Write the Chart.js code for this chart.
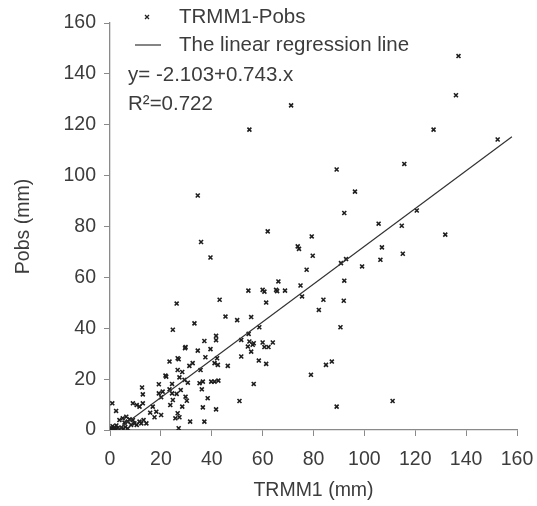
<!DOCTYPE html>
<html>
<head>
<meta charset="utf-8">
<script src="https://cdn.jsdelivr.net/npm/chart.js@4"></script>
<style>
  html, body { margin: 0; padding: 0; background: #fff; }
  #wrap { width: 537px; height: 506px; position: relative; }
</style>
</head>
<body>
<div id="wrap"><canvas id="graph"></canvas></div>
<script>
// ** DATA: ** //

var trmm = [137.0, 136.0, 127.2, 152.4, 71.2, 54.8, 34.5, 35.8, 39.5, 115.7,
	89.1, 96.3, 92.1, 120.6, 105.6, 114.7, 131.8, 62.0, 73.8, 74.3,
	79.3, 79.7, 77.3, 66.2, 74.9, 106.9, 115.1, 106.3, 99.1, 90.8,
	92.8, 92.1, 83.9, 91.9, 82.1, 90.6, 84.9, 87.2, 79.0, 89.1,
	111.1, 54.4, 60.7, 65.7, 68.8, 61.4, 75.5, 55.5, 58.7, 54.5,
	26.2, 43.1, 45.4, 50.0, 33.2, 24.7, 41.7, 41.7, 37.1, 29.5,
	34.5, 39.5, 51.6, 54.8, 54.2, 56.1, 55.5, 26.6, 37.5, 42.1,
	51.6, 56.5, 60.0, 60.7, 62.3, 64.0, 58.5, 61.4, 56.5, 50.9,
	41.1, 42.4, 46.3, 35.6, 35.2, 36.5, 36.1, 39.8, 41.1, 42.6,
	38.4, 36.5, 41.7, 37.1, 0.9, 29.7, 23.4, 27.0, 31.2, 32.5,
	26.6, 28.4, 21.8, 27.3, 29.3, 30.6, 12.6, 12.9, 19.2, 19.2,
	20.7, 20.1, 23.4, 24.4, 26.2, 27.8, 29.7, 30.2, 28.4, 9.0,
	10.5, 11.6, 12.9, 16.8, 18.2, 15.8, 20.1, 17.5, 24.7, 23.7,
	26.6, 25.7, 27.3, 31.5, 27.0, 2.4, 3.7, 5.0, 6.4, 7.7,
	7.0, 5.7, 9.0, 9.6, 8.3, 10.5, 11.6, 12.3, 13.2, 14.3,
	0.2, 0.8, 1.5, 2.2, 3.0, 3.8, 4.5, 5.2, 6.0, 1.0,
	2.5, 0.5, 7.0, 1.8, 60.0, 65.3, 24.4, 22.1];

var pobs = [147.0, 131.6, 118.1, 114.2, 127.6, 118.1, 92.2, 73.9, 67.8, 104.6,
	102.4, 93.7, 85.3, 86.3, 81.1, 80.3, 76.8, 78.1, 72.2, 71.2,
	76.1, 68.5, 63.0, 58.4, 56.8, 71.8, 69.3, 66.9, 64.3, 65.6,
	67.2, 58.7, 51.2, 50.8, 47.2, 40.4, 25.6, 26.9, 21.7, 9.2,
	11.4, 54.8, 54.4, 54.6, 54.8, 50.1, 52.5, 44.4, 40.4, 37.8,
	49.7, 51.2, 44.6, 43.2, 41.9, 39.4, 37.0, 35.3, 35.0, 32.2,
	31.2, 31.8, 35.4, 34.8, 32.8, 33.5, 30.8, 28.2, 28.6, 28.2,
	28.9, 34.1, 34.4, 32.6, 32.6, 34.4, 27.3, 26.0, 18.1, 11.4,
	26.3, 25.6, 25.2, 23.6, 18.4, 19.0, 16.0, 19.0, 19.0, 19.4,
	12.5, 8.9, 8.1, 3.3, 10.5, 32.6, 26.9, 27.8, 25.2, 26.3,
	23.6, 22.8, 21.4, 20.7, 19.7, 18.6, 16.7, 14.0, 18.0, 14.4,
	15.1, 12.9, 16.0, 14.4, 14.2, 15.7, 13.1, 11.5, 9.2, 10.5,
	9.8, 9.2, 10.5, 9.2, 7.2, 6.8, 5.9, 5.0, 11.8, 9.8,
	6.6, 4.6, 5.0, 3.3, 0.7, 7.5, 3.9, 4.6, 5.2, 4.2,
	3.3, 2.9, 3.9, 2.6, 2.0, 2.0, 3.3, 2.6, 3.9, 2.6,
	0.3, 0.1, 0.5, 0.2, 0.8, 0.3, 1.0, 0.4, 1.2, 1.5,
	1.8, 0.8, 0.6, 1.0, 55.1, 55.1, 18.1, 21.0];

// regression line end points
var lineX = [2.8, 158];
var lineY = [0, 115.3];

var xTicks = [0, 20, 40, 60, 80, 100, 120, 140, 160];
var yTicks = [0, 20, 40, 60, 80, 100, 120, 140, 160];

var seriesLabel = 'TRMM1-Pobs';
var lineLabel = 'The linear regression line';
var eqText = 'y= -2.103+0.743.x';
var r2Text = 'R\u00B2=0.722';

// ** FUNCTIONS: ** //

function toPoints(xs, ys){
	var pts = [];
	for (var i = 0; i < xs.length; i++) {
		pts.push({x: xs[i], y: ys[i]});
	}
	return pts;
}

var textColor = '#3c3c3c';
var axisColor = '#8a8a8a';

var legendPlugin = {
	id: 'insideLegend',
	afterDraw: function(chart){
		var ctx = chart.ctx;
		ctx.save();
		ctx.fillStyle = textColor;
		ctx.font = '20.5px "Liberation Sans", Arial, sans-serif';
		ctx.textBaseline = 'middle';
		ctx.textAlign = 'left';

		// marker sample
		ctx.strokeStyle = '#222';
		ctx.lineWidth = 1.3;
		ctx.beginPath();
		ctx.moveTo(145, 15); ctx.lineTo(149, 19);
		ctx.moveTo(149, 15); ctx.lineTo(145, 19);
		ctx.stroke();
		ctx.fillText(seriesLabel, 179, 17);

		// line sample
		ctx.strokeStyle = '#333';
		ctx.lineWidth = 1.2;
		ctx.beginPath();
		ctx.moveTo(135, 45); ctx.lineTo(161, 45);
		ctx.stroke();
		ctx.fillText(lineLabel, 179, 45);

		ctx.fillText(eqText, 128, 75);
		ctx.fillText(r2Text, 128, 104);
		ctx.restore();
	}
};

function generateGraph(graphID){
	var graph = document.getElementById(graphID);
	var tickFont = {family: '"Liberation Sans", Arial, sans-serif', size: 19.5};

	new Chart(graph, {
		data: {
			datasets: [{
				type: 'scatter',
				label: seriesLabel,
				data: toPoints(trmm, pobs),
				pointStyle: 'crossRot',
				pointRadius: 2.8,
				pointBorderWidth: 1.6,
				borderColor: '#1e1e1e',
				backgroundColor: '#1e1e1e',
				order: 2
			}, {
				type: 'line',
				label: lineLabel,
				data: toPoints(lineX, lineY),
				borderColor: '#333',
				borderWidth: 1.2,
				pointRadius: 0,
				fill: false,
				order: 1
			}]
		},
		options: {
			responsive: true,
			maintainAspectRatio: false,
			animation: false,
			events: [],
			layout: {padding: {top: 23, right: 20, left: 0, bottom: 0}},
			plugins: {legend: {display: false}, tooltip: {enabled: false}},
			scales: {
				x: {
					type: 'linear',
					min: 0, max: 160,
					afterBuildTicks: function(scale){ scale.ticks = xTicks.map(function(v){ return {value: v}; }); },
					afterFit: function(scale){ scale.height = 76; scale.paddingRight = 0; scale.paddingLeft = 0; },
					grid: {display: true, drawOnChartArea: false, drawTicks: true, tickLength: 6, color: axisColor},
					border: {display: true, color: axisColor, width: 1.3},
					ticks: {color: textColor, font: tickFont, padding: 12, maxRotation: 0},
					title: {display: true, text: 'TRMM1 (mm)', color: textColor, font: tickFont, padding: {top: 0, bottom: 4}}
				},
				y: {
					type: 'linear',
					min: 0, max: 160,
					afterBuildTicks: function(scale){ scale.ticks = yTicks.map(function(v){ return {value: v}; }); },
					afterFit: function(scale){ scale.width = 110; },
					grid: {display: true, drawOnChartArea: false, drawTicks: true, tickLength: 6, color: axisColor},
					border: {display: true, color: axisColor, width: 1.3},
					ticks: {color: textColor, font: tickFont, padding: 8},
					title: {display: true, text: 'Pobs (mm)', color: textColor, font: tickFont, padding: {top: 12, bottom: 0}}
				}
			}
		},
		plugins: [legendPlugin]
	});
}

// ** ENTRY POINT: ** //

generateGraph('graph');
</script>
</body>
</html>
